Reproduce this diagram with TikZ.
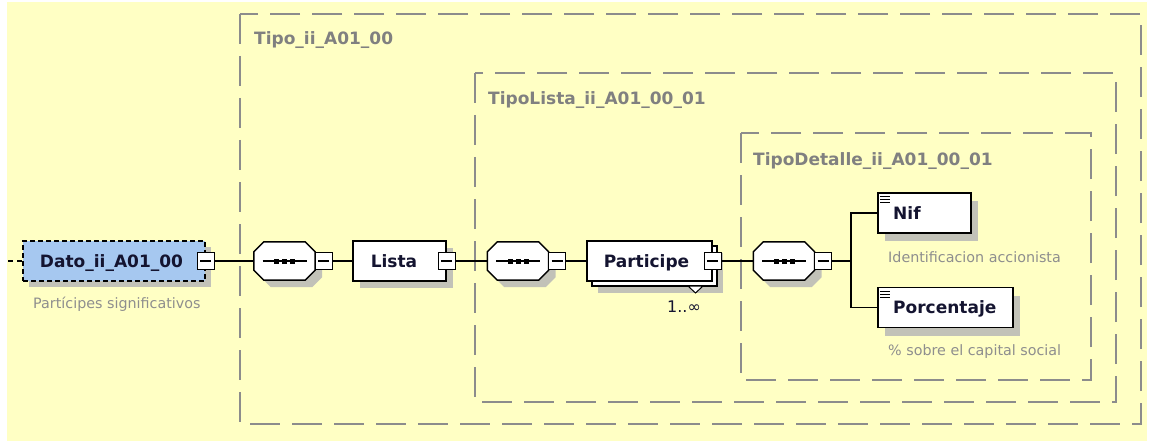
\documentclass[tikz,border=0pt]{standalone}
\usepackage{fontspec}
\setmainfont{DejaVu Sans}
\usetikzlibrary{calc}
\definecolor{bgyellow}{HTML}{FFFFC4}
\definecolor{grpgray}{HTML}{8C8C8C}
\definecolor{lblgray}{HTML}{808080}
\definecolor{descgray}{HTML}{8E8E8E}
\definecolor{elblue}{HTML}{A6C8F0}
\definecolor{shadowgray}{HTML}{C2C2B8}
\definecolor{eltextc}{HTML}{141430}
\tikzset{
  grp/.style={draw=grpgray, line width=1.6pt, dash pattern=on 30pt off 12pt},
  grplabel/.style={anchor=base west, inner sep=0pt, text=lblgray, font=\fontsize{17}{20}\selectfont\bfseries},
  elbox/.style={draw=black, line width=1.7pt, fill=white, inner sep=0pt},
  shadowbox/.style={fill=shadowgray, draw=none, inner sep=0pt},
  eltxt/.style={anchor=base, inner sep=0pt, text=eltextc, font=\fontsize{17}{20}\selectfont\bfseries},
  desc/.style={anchor=base west, inner sep=0pt, text=descgray, font=\fontsize{14.3}{17}\selectfont},
  minusbox/.style={draw=black, line width=1.2pt, fill=white, minimum size=17pt, inner sep=0pt,
    path picture={\draw[line width=1.2pt] ([xshift=3pt]path picture bounding box.west) -- ([xshift=-3pt]path picture bounding box.east);}},
  conn/.style={draw=black, line width=1.5pt},
  octo/.style={draw=black, line width=1.5pt, fill=white},
}
\newcommand\seqoct[2]{%
  \node[inner sep=0pt, minimum width=61pt, minimum height=38pt] (#1) at (#2,261) {};
  \fill[shadowgray] ($(#1.north west)+(17,7)$) -- ($(#1.north east)+(-3,7)$) -- ($(#1.north east)+(7,17)$) -- ($(#1.south east)+(7,-3)$) -- ($(#1.south east)+(-3,7)$) -- ($(#1.south west)+(17,7)$) -- ($(#1.south west)+(7,-3)$) -- ($(#1.north west)+(7,17)$) -- cycle;
  \draw[octo] ($(#1.north west)+(10,0)$) -- ($(#1.north east)+(-10,0)$) -- ($(#1.north east)+(0,10)$) -- ($(#1.south east)+(0,-10)$) -- ($(#1.south east)+(-10,0)$) -- ($(#1.south west)+(10,0)$) -- ($(#1.south west)+(0,-10)$) -- ($(#1.north west)+(0,10)$) -- cycle;
  \draw[line width=1.5pt] ($(#1.center)+(-22,0)$) -- ($(#1.center)+(22,0)$);
  \fill ($(#1.center)+(-10.5,-2.5)$) rectangle +(5,5);
  \fill ($(#1.center)+(-2.5,-2.5)$) rectangle +(5,5);
  \fill ($(#1.center)+(5.5,-2.5)$) rectangle +(5,5);
  \node[minusbox] (#1m) at ($(#1.east)+(8.5,0)$) {};
}
\begin{document}
\begin{tikzpicture}[x=1pt,y=-1pt]
\useasboundingbox (0,0) rectangle (1154,441);
\fill[white] (0,0) rectangle (1154,441);
\fill[bgyellow] (7,2) rectangle (1147,441);

% group boxes
\draw[grp] (240,14) rectangle (1141,424);
\draw[grp] (475,73) rectangle (1116,402);
\draw[grp] (741,133) rectangle (1091,380);
\node[grplabel] (g1) at (254,45) {Tipo\_ii\_A01\_00};
\node[grplabel] (g2) at (488,104.5) {TipoLista\_ii\_A01\_00\_01};
\node[grplabel] (g3) at (753,165) {TipoDetalle\_ii\_A01\_00\_01};

% Dato element
\coordinate (lstart) at (8,261);
\node[shadowbox, minimum width=182pt, minimum height=40pt] (datosh) at (120,267) {};
\node[elbox, fill=elblue, line width=1.5pt, dash pattern=on 5pt off 3pt, minimum width=182pt, minimum height=40pt] (dato) at (114,261) {};
\draw[black, line width=1.5pt, dash pattern=on 5pt off 4pt] (lstart) -- (dato.west);
\node[eltxt] (datot) at (111.5,267) {Dato\_ii\_A01\_00};
\node[minusbox] (datom) at (dato.east) {};
\node[desc] (datod) at (33,308) {Partícipes significativos};

% sequence 1
\seqoct{s1}{284.5}

% Lista
\node[shadowbox, minimum width=93pt, minimum height=40pt] (listash) at (406.5,268) {};
\node[elbox, minimum width=93pt, minimum height=40pt] (lista) at (399.5,261) {};
\node[eltxt] (listat) at (394,267) {Lista};
\node[minusbox] (listam) at (lista.east) {};

% sequence 2
\seqoct{s2}{518}

% Participe
\node[shadowbox, minimum width=125pt, minimum height=40pt] (partsh) at (660.5,273) {};
\node[elbox, minimum width=125pt, minimum height=40pt] (partb) at (654.5,266) {};
\node[elbox, minimum width=125pt, minimum height=40pt] (part) at (649.5,261) {};
\node[eltxt] (partt) at (646.5,267) {Participe};
\node[minusbox] (partm) at (part.east) {};
\draw[black, line width=1pt, fill=white] (688,286) -- (703,286) -- (695.5,293) -- cycle;
\node[anchor=base west, inner sep=0pt, text=eltextc, font=\fontsize{16}{19}\selectfont] (partmult) at (667,312) {1..∞};

% sequence 3
\seqoct{s3}{784}

% Nif and Porcentaje
\node[shadowbox, minimum width=93pt, minimum height=40pt] (nifsh) at (931.5,221) {};
\node[elbox, minimum width=93pt, minimum height=40pt] (nif) at (924.5,213) {};
\node[eltxt, anchor=base west] (nift) at (893,219) {Nif};
\draw[line width=1pt] ($(nif.north west)+(3,4.5)$) -- +(10,0) ($(nif.north west)+(3,7.5)$) -- +(10,0) ($(nif.north west)+(3,10.5)$) -- +(10,0);
\node[desc] (nifd) at (888,262) {Identificacion accionista};

\node[shadowbox, minimum width=135pt, minimum height=40pt] (porcsh) at (952.5,315.5) {};
\node[elbox, minimum width=135pt, minimum height=40pt] (porc) at (945.5,307.5) {};
\node[eltxt, anchor=base west] (porct) at (893,313.5) {Porcentaje};
\draw[line width=1pt] ($(porc.north west)+(3,4.5)$) -- +(10,0) ($(porc.north west)+(3,7.5)$) -- +(10,0) ($(porc.north west)+(3,10.5)$) -- +(10,0);
\node[desc] (porcd) at (888,355) {\% sobre el capital social};

% connectors
\coordinate (branch) at (851,261);
\draw[conn] (datom.east) -- (s1.west);
\draw[conn] (s1m.east) -- (lista.west);
\draw[conn] (listam.east) -- (s2.west);
\draw[conn] (s2m.east) -- (part.west);
\draw[conn] (partm.east) -- (s3.west);
\draw[conn] (s3m.east) -- (branch);
\draw[conn] (nif.west) -| (branch) |- (porc.west);
\end{tikzpicture}
\end{document}
